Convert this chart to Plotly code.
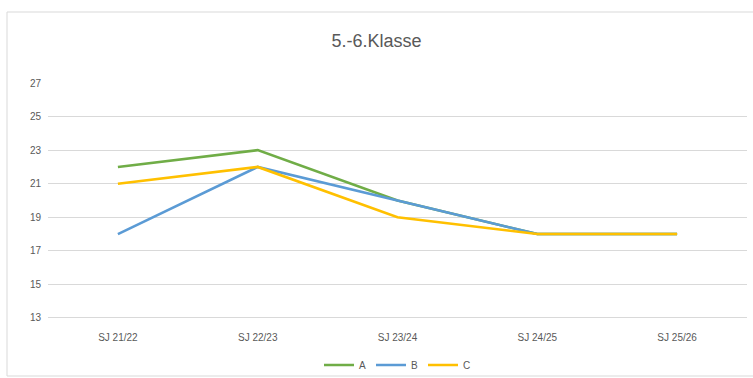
import plotly.graph_objects as go

categories = ["SJ 21/22", "SJ 22/23", "SJ 23/24", "SJ 24/25", "SJ 25/26"]
series_a = [22, 23, 20, 18, 18]
series_b = [18, 22, 20, 18, 18]
series_c = [21, 22, 19, 18, 18]
y_ticks = [13, 15, 17, 19, 21, 23, 25, 27]

colors = {"A": "#70AD47", "B": "#5B9BD5", "C": "#FFC000"}

fig = go.Figure()
for name, vals in [("A", series_a), ("B", series_b), ("C", series_c)]:
    fig.add_trace(go.Scatter(x=categories, y=vals, mode="lines", name=name,
                             line=dict(color=colors[name], width=2.6)))

W, H = 753, 378
L, R, T, B = 48, 6, 83, 58
pw, ph = W - L - R, H - T - B

fig.update_layout(
    width=W, height=H,
    margin=dict(l=L, r=R, t=T, b=B, autoexpand=False),
    paper_bgcolor="white", plot_bgcolor="white",
    font=dict(family="Liberation Sans, Arial, sans-serif", color="#595959", size=11),
    title=dict(text="5.-6.Klasse", x=0.5, xanchor="center", y=1 - 41 / H, yanchor="middle",
               font=dict(size=18, color="#595959")),
    xaxis=dict(type="category", range=[-0.5, 4.5], showgrid=False, zeroline=False,
               showline=False, ticks="", tickfont=dict(size=10, color="#595959"),
               ticklabelstandoff=10),
    yaxis=dict(range=[12.88, 27], tickvals=y_ticks, showgrid=True, gridcolor="#D9D9D9",
               gridwidth=1, zeroline=False, showline=False, ticks="",
               tickfont=dict(size=10, color="#595959"), ticklabelstandoff=6),
    legend=dict(orientation="h", x=0.5, xanchor="center", y=-(365 - (H - B)) / ph,
                yanchor="middle", font=dict(size=10, color="#595959"),
                bgcolor="rgba(0,0,0,0)", itemwidth=30, tracegroupgap=0),
    showlegend=True,
    shapes=[dict(type="rect", xref="paper", yref="paper",
                 x0=(7 - L) / pw, x1=1.05, y0=((H - B) - 376) / ph,
                 y1=((H - B) - 12) / ph, line=dict(color="#D9D9D9", width=1), layer="below")],
)

fig.write_html("out.html")
